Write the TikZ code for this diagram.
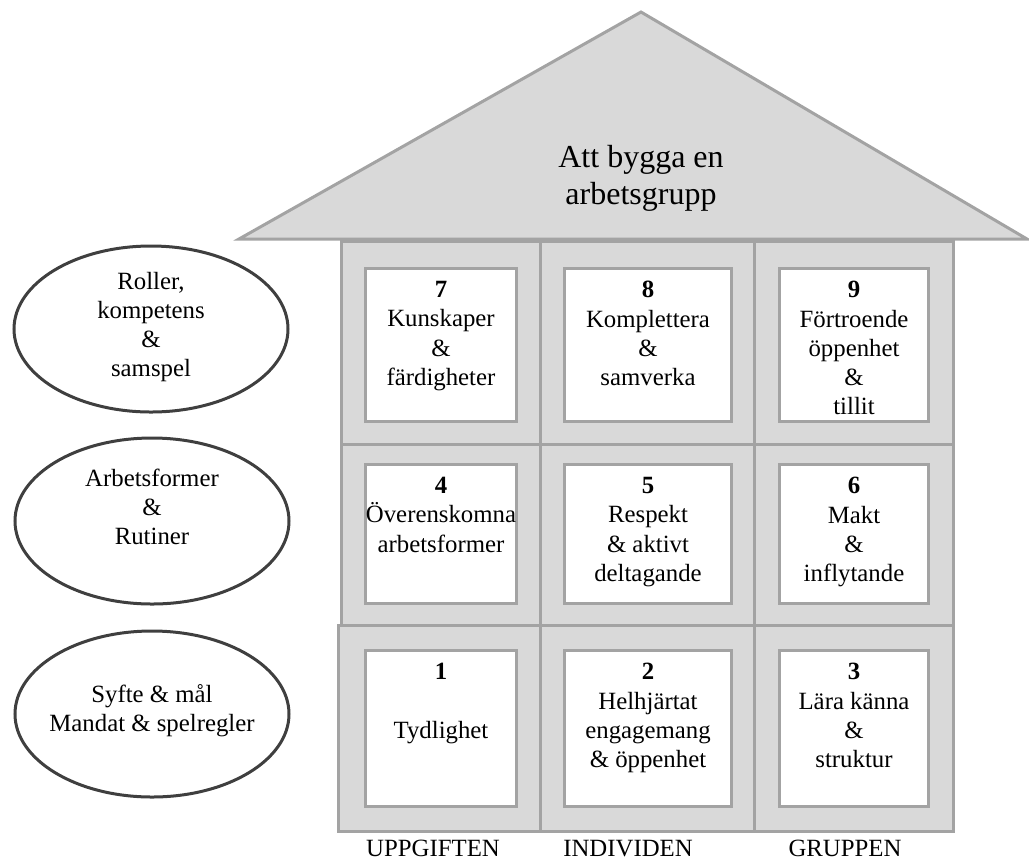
\documentclass[tikz,border=0pt]{standalone}
\usepackage{fontspec}
\setmainfont{Liberation Serif}
\usetikzlibrary{shapes.geometric}
\definecolor{fillgray}{HTML}{D9D9D9}
\definecolor{edgegray}{HTML}{A3A3A3}
\definecolor{ringgray}{HTML}{3F3F3F}
\begin{document}
\begin{tikzpicture}[x=0.5pt,y=-0.5pt,
  cell/.style={draw=edgegray, fill=fillgray, line width=1.5pt, inner sep=0pt, anchor=north west},
  card/.style={draw=edgegray, fill=white, line width=1.5pt, inner sep=0pt, anchor=north west},
  ring/.style={ellipse, draw=ringgray, line width=1.5pt, inner sep=0pt, minimum width=137pt, minimum height=83pt},
  txt/.style={align=center, inner sep=0pt, font=\fontsize{12.4}{14.6}\selectfont},
  roof/.style={draw=edgegray, fill=fillgray, line width=1.5pt, line join=miter}
]
\useasboundingbox (0,0) rectangle (1029,859);
% house body cells
\foreach \r/\ya/\h in {t/240/203, m/443/181}{
  \node[cell, minimum width=100pt, minimum height=\h*0.5pt] (c1\r) at (340,\ya) {};
  \node[cell, minimum width=107pt, minimum height=\h*0.5pt] (c2\r) at (539,\ya) {};
  \node[cell, minimum width=99.5pt, minimum height=\h*0.5pt] (c3\r) at (753,\ya) {};
}
\node[cell, minimum width=101pt, minimum height=103pt] (c1b) at (337,624) {};
\node[cell, minimum width=107pt, minimum height=103pt] (c2b) at (539,624) {};
\node[cell, minimum width=99.5pt, minimum height=103pt] (c3b) at (753,624) {};
% roof
\coordinate (rl) at (239,239);
\coordinate (rt) at (641,12);
\coordinate (rr) at (1027,239);
\draw[roof] (rl) -- (rt) -- (rr) -- cycle;
\node[txt, font=\fontsize{16}{18.5}\selectfont] (title) at (641,178) {Att bygga en\\arbetsgrupp};
% cards
\foreach \r/\ya/\h in {t/267/153, m/463/139, b/649/156}{
  \node[card, minimum width=75.5pt, minimum height=\h*0.5pt] (k1\r) at (364,\ya) {};
  \node[card, minimum width=83.5pt, minimum height=\h*0.5pt] (k2\r) at (563,\ya) {};
  \node[card, minimum width=74.5pt, minimum height=\h*0.5pt] (k3\r) at (778,\ya) {};
}
% card texts
\node[txt, anchor=north] (t7) at ([yshift=-7pt]k1t.north) {\textbf{7}\\Kunskaper\\\&\\färdigheter};
\node[txt, anchor=north] (t8) at ([yshift=-7pt]k2t.north) {\textbf{8}\\Komplettera\\\&\\samverka};
\node[txt, anchor=north] (t9) at ([yshift=-7pt]k3t.north) {\textbf{9}\\Förtroende\\öppenhet\\\&\\tillit};
\node[txt, anchor=north] (t4) at ([yshift=-7pt]k1m.north) {\textbf{4}\\Överenskomna\\arbetsformer};
\node[txt, anchor=north] (t5) at ([yshift=-7pt]k2m.north) {\textbf{5}\\Respekt\\\& aktivt\\deltagande};
\node[txt, anchor=north] (t6) at ([yshift=-7pt]k3m.north) {\textbf{6}\\Makt\\\&\\inflytande};
\node[txt, anchor=north] (t1) at ([yshift=-7pt]k1b.north) {\textbf{1}\\[14.6pt]Tydlighet};
\node[txt, anchor=north] (t2) at ([yshift=-7pt]k2b.north) {\textbf{2}\\Helhjärtat\\engagemang\\\& öppenhet};
\node[txt, anchor=north] (t3) at ([yshift=-7pt]k3b.north) {\textbf{3}\\Lära känna\\\&\\struktur};
% ellipses
\node[ring] (e1) at (151,329) {};
\node[ring] (e2) at (152,521) {};
\node[ring] (e3) at (152,714) {};
\node[txt] (l1) at (151,327) {Roller,\\kompetens\\\&\\samspel};
\node[txt] (l2) at (152,507) {Arbetsformer\\\&\\Rutiner};
\node[txt] (l3) at (152,711) {Syfte \& mål\\Mandat \& spelregler};
% column labels
\node[txt, anchor=base] (u1) at (433,856) {UPPGIFTEN};
\node[txt, anchor=base] (u2) at (628,856) {INDIVIDEN};
\node[txt, anchor=base] (u3) at (845,856) {GRUPPEN};
\end{tikzpicture}
\end{document}
